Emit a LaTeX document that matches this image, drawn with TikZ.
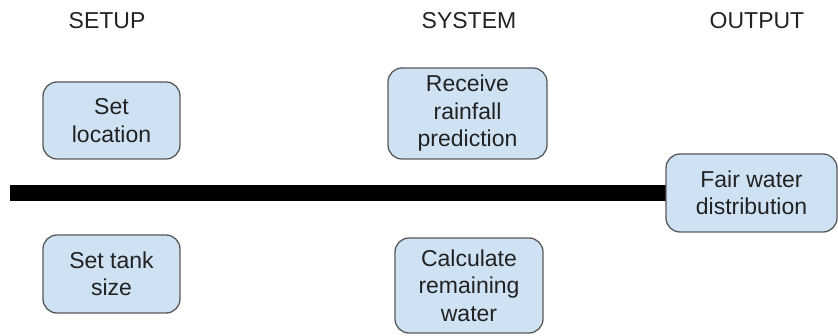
\documentclass[tikz,border=0pt]{standalone}
\usepackage{fontspec}
\setmainfont{Liberation Sans}
\definecolor{boxfill}{HTML}{CFE2F3}
\definecolor{boxline}{HTML}{595959}
\definecolor{txt}{HTML}{222222}
\begin{document}
\begin{tikzpicture}[x=1pt,y=-1pt,
  stagebox/.style={draw=boxline, fill=boxfill, line width=1.3pt, rounded corners=14pt,
    align=center, inner sep=0pt, text=txt, font=\fontsize{23}{27.5}\selectfont},
  heading/.style={text=txt, font=\fontsize{23}{27}\selectfont, inner sep=0pt}]
\useasboundingbox (0,0) rectangle (838,336);
\node[heading] (setup) at (107,21) {SETUP};
\node[heading] (system) at (469,21) {SYSTEM};
\node[heading] (output) at (757,21) {OUTPUT};
\node[stagebox, minimum width=137pt, minimum height=77pt] (loc) at (111.5,120.5) {Set\\location};
\node[stagebox, minimum width=137pt, minimum height=78pt] (tank) at (111.5,274) {Set tank\\size};
\node[stagebox, minimum width=159pt, minimum height=91pt] (rain) at (467.5,113.5) {Receive\\rainfall\\prediction};
\node[stagebox, minimum width=148pt, minimum height=95pt] (calc) at (469,285.5) {Calculate\\remaining\\water};
\coordinate (barstart) at (10,193);
\draw[line width=16pt] (barstart) -- (666,193);
\node[stagebox, minimum width=171pt, minimum height=78pt] (fair) at (751.5,193) {Fair water\\distribution};
\end{tikzpicture}
\end{document}
